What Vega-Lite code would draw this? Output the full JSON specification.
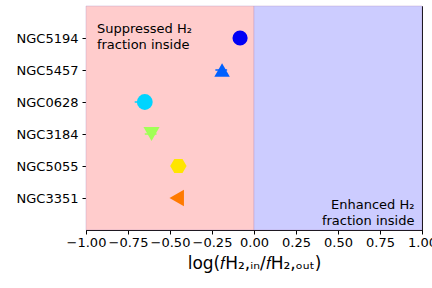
{
  "$schema": "https://vega.github.io/schema/vega-lite/v6.json",
  "width": 336,
  "height": 224,
  "autosize": "none",
  "padding": {"left": 86, "top": 6, "right": 10, "bottom": 58},
  "config": {
    "font": "DejaVu Sans",
    "view": {"stroke": "black", "strokeWidth": 1},
    "axis": {"grid": false, "labelFont": "DejaVu Sans", "titleFont": "DejaVu Sans", "labelColor": "black", "tickColor": "black", "domainColor": "black", "labelFontSize": 13, "tickSize": 4}
  },
  "datasets": {
    "pts": [
      {"galaxy": "NGC5194", "ratio": -0.083, "lo": -0.1, "hi": -0.07},
      {"galaxy": "NGC5457", "ratio": -0.19, "lo": -0.23, "hi": -0.16},
      {"galaxy": "NGC0628", "ratio": -0.65, "lo": -0.71, "hi": -0.62},
      {"galaxy": "NGC3184", "ratio": -0.61, "lo": -0.65, "hi": -0.58},
      {"galaxy": "NGC5055", "ratio": -0.45, "lo": -0.47, "hi": -0.43},
      {"galaxy": "NGC3351", "ratio": -0.46, "lo": -0.48, "hi": -0.44}
    ],
    "bands": [
      {"x0": -1, "x1": 0, "c": "#ffcccc"},
      {"x0": 0, "x1": 1, "c": "#ccccff"}
    ],
    "noteL": [
      {"galaxy": "NGC5194", "x": -0.935, "label": ["Suppressed H₂", "fraction inside"]}
    ],
    "noteR": [
      {"galaxy": "NGC3351", "x": 0.955, "label": ["Enhanced H₂", "fraction inside"]}
    ]
  },
  "encoding": {
    "y": {
      "field": "galaxy", "type": "nominal",
      "scale": {"type": "point", "padding": 1, "domain": ["NGC5194", "NGC5457", "NGC0628", "NGC3184", "NGC5055", "NGC3351"]},
      "axis": {"title": null, "labelPadding": 4}
    }
  },
  "layer": [
    {
      "data": {"name": "bands"},
      "mark": {"type": "rect", "strokeWidth": 0.6, "stroke": "#b090c0", "strokeOpacity": 0.6},
      "encoding": {
        "y": null,
        "x": {"field": "x0", "type": "quantitative"},
        "x2": {"field": "x1"},
        "fill": {"field": "c", "type": "nominal", "scale": null}
      }
    },
    {
      "data": {"name": "pts"},
      "mark": {"type": "rule", "strokeWidth": 1.5},
      "encoding": {
        "x": {"field": "lo", "type": "quantitative"},
        "x2": {"field": "hi"},
        "color": {"field": "galaxy", "type": "nominal", "legend": null,
          "scale": {"domain": ["NGC5194", "NGC5457", "NGC0628", "NGC3184", "NGC5055", "NGC3351"], "range": ["#0000f5", "#0060ff", "#00d4ff", "#a0ff56", "#ffe500", "#ff7a00"]}}
      }
    },
    {
      "data": {"name": "pts"},
      "mark": {"type": "point", "filled": true, "opacity": 1},
      "encoding": {
        "x": {
          "field": "ratio", "type": "quantitative",
          "scale": {"domain": [-1, 1], "nice": false, "zero": false},
          "axis": {"values": [-1, -0.75, -0.5, -0.25, 0, 0.25, 0.5, 0.75, 1], "format": ".2f", "title": "log(𝑓H₂,ᵢₙ/𝑓H₂,ₒᵤₜ)", "titleFontSize": 17, "titleFontWeight": "normal", "titleColor": "black", "titlePadding": 6, "labelFlush": false}
        },
        "color": {"field": "galaxy", "type": "nominal", "legend": null},
        "size": {"field": "galaxy", "type": "nominal", "legend": null,
          "scale": {"domain": ["NGC5194", "NGC5457", "NGC0628", "NGC3184", "NGC5055", "NGC3351"], "range": [230, 280, 240, 280, 290, 280]}},
        "shape": {"field": "galaxy", "type": "nominal", "legend": null,
          "scale": {"domain": ["NGC5194", "NGC5457", "NGC0628", "NGC3184", "NGC5055", "NGC3351"], "range": ["circle", "triangle-up", "circle", "triangle-down", "M-1,0L-0.5,-0.866L0.5,-0.866L1,0L0.5,0.866L-0.5,0.866Z", "triangle-left"]}}
      }
    },
    {
      "data": {"name": "noteL"},
      "mark": {"type": "text", "fontSize": 13, "color": "black", "baseline": "middle", "lineHeight": 16, "align": "left", "dy": -9},
      "encoding": {
        "x": {"field": "x", "type": "quantitative"},
        "text": {"field": "label"}
      }
    },
    {
      "data": {"name": "noteR"},
      "mark": {"type": "text", "fontSize": 13, "color": "black", "baseline": "middle", "lineHeight": 16, "align": "right", "dy": 7},
      "encoding": {
        "x": {"field": "x", "type": "quantitative"},
        "text": {"field": "label"}
      }
    }
  ]
}
